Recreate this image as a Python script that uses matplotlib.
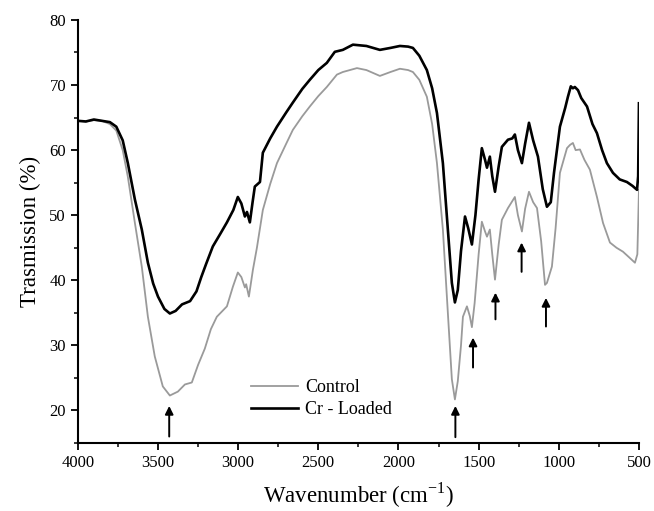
import numpy as np
import matplotlib
matplotlib.use('Agg')
import matplotlib.pyplot as plt
from matplotlib.ticker import MultipleLocator

plt.rcParams['font.family'] = ['Liberation Serif', 'DejaVu Serif']
plt.rcParams['mathtext.fontset'] = 'custom'
plt.rcParams['mathtext.rm'] = 'Liberation Serif'

# Cr - Loaded spectrum (wavenumber, transmission)
wn_cr = [4000, 3950, 3900, 3850, 3800, 3760, 3720, 3688, 3644, 3601, 3563, 3530,
         3500, 3460, 3426, 3390, 3350, 3300, 3260, 3230, 3200, 3158, 3110, 3070,
         3030, 3002, 2980, 2958, 2945, 2927, 2910, 2896, 2864, 2846, 2800, 2758,
         2700, 2659, 2600, 2553, 2500, 2447, 2397, 2347, 2284, 2200, 2116, 2050,
         1991, 1940, 1910, 1870, 1823, 1790, 1760, 1723, 1692, 1667, 1648, 1630,
         1610, 1585, 1565, 1542, 1520, 1500, 1480, 1460, 1448, 1430, 1415, 1398,
         1375, 1355, 1317, 1290, 1274, 1255, 1230, 1210, 1186, 1160, 1130, 1100,
         1074, 1050, 1030, 993, 960, 943, 925, 912, 900, 880, 860, 824, 790, 762,
         730, 700, 662, 620, 575, 540, 512, 505, 500]
t_cr = [64.5, 64.4, 64.7, 64.5, 64.3, 63.6, 61.5, 58.0, 52.4, 47.8, 42.7, 39.5,
        37.5, 35.6, 34.9, 35.3, 36.3, 36.8, 38.3, 40.5, 42.5, 45.2, 47.2, 48.9,
        50.8, 52.8, 51.8, 49.8, 50.5, 48.9, 52.0, 54.4, 55.1, 59.6, 61.8, 63.6,
        65.8, 67.3, 69.4, 70.8, 72.3, 73.4, 75.1, 75.4, 76.2, 76.0, 75.4, 75.7,
        76.0, 75.9, 75.7, 74.5, 72.3, 69.5, 65.7, 58.0, 47.8, 39.6, 36.6, 38.5,
        44.5, 49.8, 48.0, 45.5, 50.0, 55.5, 60.3, 58.5, 57.3, 59.0, 56.0, 53.6,
        57.5, 60.5, 61.6, 61.8, 62.4, 60.0, 58.0, 61.0, 64.2, 61.5, 59.0, 54.0,
        51.3, 52.0, 56.5, 63.6, 66.5, 68.2, 69.8, 69.5, 69.7, 69.2, 68.0, 66.7,
        64.0, 62.6, 60.0, 58.0, 56.5, 55.5, 55.1, 54.5, 53.9, 56.0, 67.2]

# Control spectrum
wn_ctrl = [4000, 3950, 3900, 3850, 3800, 3760, 3720, 3688, 3644, 3601, 3563, 3520,
           3470, 3426, 3376, 3332, 3289, 3250, 3208, 3170, 3133, 3070, 3033, 3002,
           2980, 2958, 2950, 2933, 2908, 2883, 2846, 2800, 2758, 2700, 2659, 2600,
           2553, 2500, 2447, 2384, 2347, 2259, 2200, 2116, 2050, 1991, 1940, 1910,
           1870, 1823, 1790, 1760, 1723, 1692, 1667, 1648, 1630, 1610, 1598, 1573,
           1555, 1542, 1525, 1500, 1480, 1460, 1448, 1430, 1415, 1398, 1375, 1355,
           1317, 1274, 1255, 1230, 1210, 1186, 1160, 1136, 1110, 1086, 1074, 1043,
           1020, 993, 949, 930, 912, 895, 868, 840, 806, 762, 724, 681, 640, 600,
           560, 525, 510, 500]
t_ctrl = [64.5, 64.4, 64.6, 64.5, 64.0, 63.0, 60.0, 55.9, 48.8, 42.1, 34.4, 28.3,
          23.7, 22.3, 22.9, 24.0, 24.3, 27.0, 29.5, 32.5, 34.4, 36.0, 39.0, 41.2,
          40.5, 38.9, 39.4, 37.5, 41.6, 45.0, 50.8, 54.8, 58.0, 61.0, 63.1, 65.2,
          66.7, 68.3, 69.7, 71.6, 72.0, 72.6, 72.3, 71.4, 72.0, 72.5, 72.3, 72.0,
          70.8, 68.2, 64.0, 58.0, 47.8, 35.0, 24.8, 21.7, 24.5, 30.0, 34.4, 36.0,
          34.5, 32.8, 36.5, 44.0, 49.0, 47.5, 46.7, 47.8, 44.0, 40.1, 45.5, 49.3,
          51.1, 52.8, 50.0, 47.5, 51.0, 53.6, 52.0, 51.1, 46.0, 39.3, 39.6, 42.1,
          48.0, 56.5, 60.3, 60.8, 61.1, 60.0, 60.1, 58.5, 57.0, 52.8, 48.8, 45.8,
          45.0, 44.4, 43.5, 42.7, 44.0, 53.9]

# marked bands: position, arrow tail, arrow tip
arrow_wn = [3430, 1645, 1535, 1395, 1232, 1080]
arrow_tail = [16.0, 15.9, 26.6, 34.0, 41.3, 32.9]
arrow_tip = [20.7, 20.7, 31.2, 38.1, 45.8, 37.3]

fig = plt.figure(figsize=(6.54, 5.11), dpi=100)
ax = fig.add_axes([0.119, 0.133, 0.858, 0.828])

ax.plot(wn_ctrl, t_ctrl, color='#9a9a9a', lw=1.3, label='Control')
ax.plot(wn_cr, t_cr, color='black', lw=1.9, label='Cr - Loaded')

for x, t0, t1 in zip(arrow_wn, arrow_tail, arrow_tip):
    ax.annotate('', xy=(x, t1), xytext=(x, t0),
                arrowprops=dict(arrowstyle='-|>', color='black', lw=1.4,
                                mutation_scale=12, shrinkA=0, shrinkB=0))

ax.set_xlim(4000, 500)
ax.set_ylim(15, 80)
ax.xaxis.set_major_locator(MultipleLocator(500))
ax.xaxis.set_minor_locator(MultipleLocator(250))
ax.yaxis.set_major_locator(MultipleLocator(10))
ax.yaxis.set_minor_locator(MultipleLocator(5))

ax.spines['top'].set_visible(False)
ax.spines['right'].set_visible(False)
ax.spines['left'].set_linewidth(1.5)
ax.spines['bottom'].set_linewidth(1.5)
ax.tick_params(which='major', direction='out', length=5, width=1.3, labelsize=12)
ax.tick_params(which='minor', direction='out', length=3, width=1.1)

ax.set_xlabel(r'Wavenumber (cm$^{\mathregular{-1}}$)', fontsize=16.5, labelpad=7)
ax.set_ylabel('Trasmission (%)', fontsize=16.5, labelpad=6)

ax.legend(loc='lower left', bbox_to_anchor=(0.28, 0.02), frameon=False,
          fontsize=13, handlelength=2.6, handletextpad=0.4, labelspacing=0.3)

fig.savefig('out.png', dpi=100)
